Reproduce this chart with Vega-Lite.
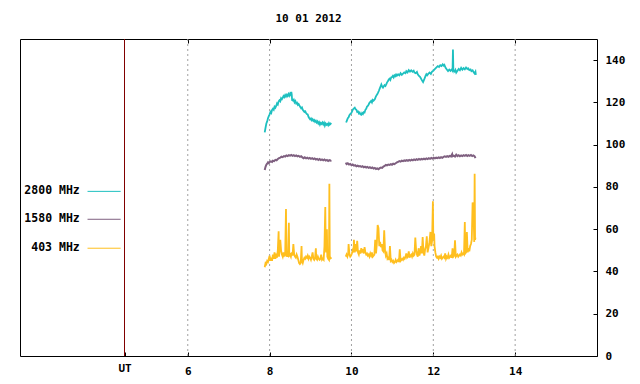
{
"$schema":"https://vega.github.io/schema/vega-lite/v6.json",
"width":577,"height":317,
"autosize":{"type":"none"},
"padding":{"left":20,"top":39,"right":43,"bottom":28},
"background":"white",
"title":{"text":"10 01 2012","font":"DejaVu Sans Mono","fontSize":11,"fontWeight":"bold","color":"black","anchor":"middle","offset":15},
"config":{"view":{"stroke":"black","strokeWidth":1},"font":"DejaVu Sans Mono",
 "axisY":{"orient":"right","values":[0,20,40,60,80,100,120,140],"domain":false,"grid":false,"tickSize":-4,"tickColor":"black","labelFont":"DejaVu Sans Mono","labelFontSize":11,"labelFontWeight":"bold","labelColor":"black","labelPadding":12,"title":null}},
"datasets":{
"grid":[{"t":6},{"t":8},{"t":10},{"t":12},{"t":14}],
"ut":[{"t":4.454}],
"leg":[
{"label":"2800 MHz","tx":3.36,"x1":3.55,"x2":4.36,"y":77.9},
{"label":"1580 MHz","tx":3.36,"x1":3.55,"x2":4.36,"y":64.7},
{"label":"403 MHz","tx":3.36,"x1":3.55,"x2":4.36,"y":51.0}],
"c2800":[
{"g":1,"t":7.88,"v":105.8},{"g":1,"t":7.9,"v":108},{"g":1,"t":7.92,"v":110},{"g":1,"t":7.94,"v":111},{"g":1,"t":7.96,"v":112.5},{"g":1,"t":7.98,"v":113.5},{"g":1,"t":8.0,"v":114.4},{"g":1,"t":8.02,"v":115.5},{"g":1,"t":8.04,"v":115},{"g":1,"t":8.06,"v":116.5},{"g":1,"t":8.08,"v":117},{"g":1,"t":8.1,"v":116.5},{"g":1,"t":8.12,"v":118},{"g":1,"t":8.14,"v":117.5},{"g":1,"t":8.16,"v":118.3},{"g":1,"t":8.18,"v":119.5},{"g":1,"t":8.2,"v":119},{"g":1,"t":8.22,"v":120.5},{"g":1,"t":8.24,"v":121},{"g":1,"t":8.26,"v":120.5},{"g":1,"t":8.28,"v":122},{"g":1,"t":8.3,"v":121.5},{"g":1,"t":8.32,"v":122.2},{"g":1,"t":8.34,"v":123},{"g":1,"t":8.36,"v":122.5},{"g":1,"t":8.38,"v":123.5},{"g":1,"t":8.4,"v":122.8},{"g":1,"t":8.42,"v":123.6},{"g":1,"t":8.44,"v":123},{"g":1,"t":8.46,"v":124},{"g":1,"t":8.48,"v":123.2},{"g":1,"t":8.5,"v":124.2},{"g":1,"t":8.52,"v":123.5},{"g":1,"t":8.53,"v":125},{"g":1,"t":8.54,"v":123.8},{"g":1,"t":8.55,"v":121},{"g":1,"t":8.57,"v":120.8},{"g":1,"t":8.59,"v":121.3},{"g":1,"t":8.61,"v":120},{"g":1,"t":8.63,"v":120.6},{"g":1,"t":8.65,"v":119.5},{"g":1,"t":8.67,"v":119.8},{"g":1,"t":8.69,"v":118.8},{"g":1,"t":8.71,"v":119.2},{"g":1,"t":8.73,"v":118.5},{"g":1,"t":8.75,"v":117.8},{"g":1,"t":8.77,"v":117.2},{"g":1,"t":8.79,"v":117.6},{"g":1,"t":8.81,"v":116.5},{"g":1,"t":8.83,"v":116},{"g":1,"t":8.85,"v":115.5},{"g":1,"t":8.87,"v":115.8},{"g":1,"t":8.89,"v":115},{"g":1,"t":8.91,"v":114.5},{"g":1,"t":8.93,"v":114.3},{"g":1,"t":8.95,"v":113.2},{"g":1,"t":8.97,"v":112.5},{"g":1,"t":8.99,"v":112},{"g":1,"t":9.01,"v":112.4},{"g":1,"t":9.03,"v":111.5},{"g":1,"t":9.05,"v":112},{"g":1,"t":9.07,"v":111.2},{"g":1,"t":9.09,"v":111.6},{"g":1,"t":9.11,"v":110.8},{"g":1,"t":9.13,"v":111.3},{"g":1,"t":9.15,"v":110.5},{"g":1,"t":9.17,"v":111},{"g":1,"t":9.19,"v":110},{"g":1,"t":9.21,"v":110.6},{"g":1,"t":9.23,"v":109.5},{"g":1,"t":9.25,"v":110.3},{"g":1,"t":9.27,"v":109.8},{"g":1,"t":9.29,"v":110.5},{"g":1,"t":9.31,"v":109.6},{"g":1,"t":9.33,"v":110.4},{"g":1,"t":9.35,"v":109},{"g":1,"t":9.37,"v":110},{"g":1,"t":9.39,"v":109.4},{"g":1,"t":9.41,"v":109.8},{"g":1,"t":9.43,"v":109.2},{"g":1,"t":9.45,"v":110.2},{"g":1,"t":9.47,"v":109.5},{"g":1,"t":9.49,"v":110},{"g":1,"t":9.51,"v":109.7},
{"g":2,"t":9.87,"v":110.5},{"g":2,"t":9.89,"v":111.5},{"g":2,"t":9.91,"v":112.5},{"g":2,"t":9.93,"v":113},{"g":2,"t":9.95,"v":114},{"g":2,"t":9.97,"v":114.5},{"g":2,"t":10.0,"v":115.1},{"g":2,"t":10.02,"v":116},{"g":2,"t":10.04,"v":116.8},{"g":2,"t":10.06,"v":117.2},{"g":2,"t":10.08,"v":117.5},{"g":2,"t":10.1,"v":116.8},{"g":2,"t":10.12,"v":116.5},{"g":2,"t":10.14,"v":115.5},{"g":2,"t":10.16,"v":115.7},{"g":2,"t":10.18,"v":114.8},{"g":2,"t":10.2,"v":115.2},{"g":2,"t":10.22,"v":114.3},{"g":2,"t":10.24,"v":114.1},{"g":2,"t":10.26,"v":115},{"g":2,"t":10.28,"v":114.5},{"g":2,"t":10.3,"v":115.4},{"g":2,"t":10.32,"v":115.2},{"g":2,"t":10.34,"v":116.5},{"g":2,"t":10.36,"v":117},{"g":2,"t":10.38,"v":118},{"g":2,"t":10.4,"v":118.3},{"g":2,"t":10.42,"v":119},{"g":2,"t":10.44,"v":119.8},{"g":2,"t":10.46,"v":120.2},{"g":2,"t":10.48,"v":120.7},{"g":2,"t":10.5,"v":120},{"g":2,"t":10.52,"v":121.2},{"g":2,"t":10.54,"v":120.8},{"g":2,"t":10.57,"v":121.5},{"g":2,"t":10.59,"v":122.5},{"g":2,"t":10.61,"v":123.3},{"g":2,"t":10.63,"v":123.8},{"g":2,"t":10.65,"v":124.6},{"g":2,"t":10.67,"v":125.5},{"g":2,"t":10.69,"v":126.5},{"g":2,"t":10.71,"v":127.5},{"g":2,"t":10.73,"v":128.5},{"g":2,"t":10.75,"v":127.5},{"g":2,"t":10.77,"v":127},{"g":2,"t":10.79,"v":127.6},{"g":2,"t":10.81,"v":128.2},{"g":2,"t":10.83,"v":127.8},{"g":2,"t":10.85,"v":128.5},{"g":2,"t":10.87,"v":129.5},{"g":2,"t":10.89,"v":130},{"g":2,"t":10.91,"v":130.8},{"g":2,"t":10.93,"v":131.2},{"g":2,"t":10.95,"v":130.6},{"g":2,"t":10.97,"v":131.8},{"g":2,"t":10.99,"v":132},{"g":2,"t":11.01,"v":132.5},{"g":2,"t":11.03,"v":131.8},{"g":2,"t":11.05,"v":132.8},{"g":2,"t":11.07,"v":132.4},{"g":2,"t":11.09,"v":133.2},{"g":2,"t":11.11,"v":132.6},{"g":2,"t":11.14,"v":133.3},{"g":2,"t":11.17,"v":132.8},{"g":2,"t":11.2,"v":133.8},{"g":2,"t":11.23,"v":133},{"g":2,"t":11.26,"v":133.6},{"g":2,"t":11.29,"v":134.2},{"g":2,"t":11.32,"v":133.8},{"g":2,"t":11.34,"v":134.8},{"g":2,"t":11.37,"v":134.2},{"g":2,"t":11.4,"v":135.3},{"g":2,"t":11.43,"v":134.6},{"g":2,"t":11.46,"v":135.2},{"g":2,"t":11.49,"v":134.5},{"g":2,"t":11.52,"v":135},{"g":2,"t":11.54,"v":134.1},{"g":2,"t":11.57,"v":133.8},{"g":2,"t":11.6,"v":134.4},{"g":2,"t":11.62,"v":133.3},{"g":2,"t":11.65,"v":132.5},{"g":2,"t":11.68,"v":132},{"g":2,"t":11.71,"v":130.9},{"g":2,"t":11.73,"v":130.2},{"g":2,"t":11.75,"v":129.6},{"g":2,"t":11.77,"v":130.5},{"g":2,"t":11.79,"v":131.5},{"g":2,"t":11.81,"v":132.5},{"g":2,"t":11.83,"v":133.3},{"g":2,"t":11.85,"v":132.8},{"g":2,"t":11.88,"v":133.6},{"g":2,"t":11.91,"v":134.1},{"g":2,"t":11.94,"v":133.5},{"g":2,"t":11.97,"v":134.6},{"g":2,"t":12.0,"v":135},{"g":2,"t":12.03,"v":135.6},{"g":2,"t":12.06,"v":136.2},{"g":2,"t":12.09,"v":136.8},{"g":2,"t":12.11,"v":137.2},{"g":2,"t":12.14,"v":136.8},{"g":2,"t":12.17,"v":137.6},{"g":2,"t":12.2,"v":137.2},{"g":2,"t":12.23,"v":138},{"g":2,"t":12.25,"v":137.4},{"g":2,"t":12.27,"v":137.8},{"g":2,"t":12.3,"v":136.4},{"g":2,"t":12.33,"v":135.6},{"g":2,"t":12.36,"v":134.8},{"g":2,"t":12.39,"v":135.5},{"g":2,"t":12.42,"v":134.9},{"g":2,"t":12.45,"v":135.6},{"g":2,"t":12.47,"v":135},{"g":2,"t":12.48,"v":145},{"g":2,"t":12.49,"v":135.2},{"g":2,"t":12.52,"v":134.6},{"g":2,"t":12.54,"v":135.4},{"g":2,"t":12.56,"v":134.1},{"g":2,"t":12.59,"v":135},{"g":2,"t":12.62,"v":135.8},{"g":2,"t":12.65,"v":135.2},{"g":2,"t":12.68,"v":136.4},{"g":2,"t":12.71,"v":135.5},{"g":2,"t":12.74,"v":136.2},{"g":2,"t":12.77,"v":135.6},{"g":2,"t":12.8,"v":136.5},{"g":2,"t":12.83,"v":135.8},{"g":2,"t":12.85,"v":136.1},{"g":2,"t":12.88,"v":135.3},{"g":2,"t":12.91,"v":135.6},{"g":2,"t":12.93,"v":134.8},{"g":2,"t":12.96,"v":135.2},{"g":2,"t":12.99,"v":134.2},{"g":2,"t":13.01,"v":133.7},{"g":2,"t":13.03,"v":134.5},{"g":2,"t":13.04,"v":133}],
"c1580":[
{"g":1,"t":7.88,"v":88},{"g":1,"t":7.9,"v":89.5},{"g":1,"t":7.92,"v":90.5},{"g":1,"t":7.94,"v":91},{"g":1,"t":7.96,"v":91.6},{"g":1,"t":7.98,"v":91.2},{"g":1,"t":8.0,"v":91.8},{"g":1,"t":8.03,"v":92.1},{"g":1,"t":8.06,"v":91.8},{"g":1,"t":8.08,"v":92.4},{"g":1,"t":8.11,"v":92.2},{"g":1,"t":8.14,"v":92.8},{"g":1,"t":8.17,"v":92.6},{"g":1,"t":8.2,"v":93.2},{"g":1,"t":8.23,"v":93.6},{"g":1,"t":8.26,"v":93.9},{"g":1,"t":8.29,"v":94.3},{"g":1,"t":8.32,"v":94.1},{"g":1,"t":8.35,"v":94.6},{"g":1,"t":8.38,"v":94.4},{"g":1,"t":8.41,"v":94.9},{"g":1,"t":8.44,"v":94.6},{"g":1,"t":8.47,"v":95},{"g":1,"t":8.5,"v":94.8},{"g":1,"t":8.53,"v":95.1},{"g":1,"t":8.56,"v":94.7},{"g":1,"t":8.59,"v":95},{"g":1,"t":8.62,"v":94.6},{"g":1,"t":8.65,"v":94.9},{"g":1,"t":8.68,"v":94.5},{"g":1,"t":8.71,"v":94.7},{"g":1,"t":8.74,"v":94.2},{"g":1,"t":8.77,"v":94.5},{"g":1,"t":8.8,"v":94},{"g":1,"t":8.83,"v":93.6},{"g":1,"t":8.86,"v":94},{"g":1,"t":8.89,"v":93.5},{"g":1,"t":8.92,"v":93.8},{"g":1,"t":8.95,"v":93.4},{"g":1,"t":8.98,"v":93.7},{"g":1,"t":9.01,"v":93.3},{"g":1,"t":9.04,"v":93.6},{"g":1,"t":9.07,"v":93.2},{"g":1,"t":9.1,"v":93.5},{"g":1,"t":9.13,"v":93},{"g":1,"t":9.16,"v":93.3},{"g":1,"t":9.19,"v":92.8},{"g":1,"t":9.22,"v":93.2},{"g":1,"t":9.25,"v":92.7},{"g":1,"t":9.28,"v":93},{"g":1,"t":9.31,"v":92.6},{"g":1,"t":9.34,"v":93},{"g":1,"t":9.37,"v":92.5},{"g":1,"t":9.4,"v":92.8},{"g":1,"t":9.43,"v":92.3},{"g":1,"t":9.46,"v":92.7},{"g":1,"t":9.49,"v":92.4},{"g":1,"t":9.51,"v":92.6},
{"g":2,"t":9.86,"v":91.5},{"g":2,"t":9.88,"v":90.8},{"g":2,"t":9.91,"v":91.2},{"g":2,"t":9.94,"v":90.6},{"g":2,"t":9.97,"v":90.9},{"g":2,"t":10.0,"v":90.3},{"g":2,"t":10.03,"v":90.6},{"g":2,"t":10.06,"v":90.1},{"g":2,"t":10.09,"v":90.3},{"g":2,"t":10.12,"v":89.8},{"g":2,"t":10.15,"v":90.1},{"g":2,"t":10.18,"v":89.7},{"g":2,"t":10.21,"v":89.9},{"g":2,"t":10.24,"v":89.5},{"g":2,"t":10.27,"v":89.8},{"g":2,"t":10.3,"v":89.3},{"g":2,"t":10.33,"v":89.6},{"g":2,"t":10.36,"v":89.2},{"g":2,"t":10.39,"v":89.5},{"g":2,"t":10.42,"v":89},{"g":2,"t":10.45,"v":89.3},{"g":2,"t":10.48,"v":88.9},{"g":2,"t":10.51,"v":89.2},{"g":2,"t":10.54,"v":88.7},{"g":2,"t":10.57,"v":89},{"g":2,"t":10.6,"v":88.5},{"g":2,"t":10.63,"v":88.8},{"g":2,"t":10.66,"v":88.4},{"g":2,"t":10.69,"v":88.9},{"g":2,"t":10.72,"v":89.2},{"g":2,"t":10.75,"v":89},{"g":2,"t":10.78,"v":89.6},{"g":2,"t":10.81,"v":89.9},{"g":2,"t":10.84,"v":90.4},{"g":2,"t":10.87,"v":90.2},{"g":2,"t":10.9,"v":90.6},{"g":2,"t":10.93,"v":90.4},{"g":2,"t":10.96,"v":90.8},{"g":2,"t":10.99,"v":90.5},{"g":2,"t":11.02,"v":91},{"g":2,"t":11.05,"v":90.8},{"g":2,"t":11.08,"v":91.2},{"g":2,"t":11.11,"v":91.6},{"g":2,"t":11.14,"v":91.9},{"g":2,"t":11.17,"v":92.2},{"g":2,"t":11.2,"v":92},{"g":2,"t":11.23,"v":92.4},{"g":2,"t":11.26,"v":92.2},{"g":2,"t":11.29,"v":92.6},{"g":2,"t":11.32,"v":92.3},{"g":2,"t":11.35,"v":92.7},{"g":2,"t":11.38,"v":92.4},{"g":2,"t":11.41,"v":92.8},{"g":2,"t":11.44,"v":92.5},{"g":2,"t":11.47,"v":92.9},{"g":2,"t":11.5,"v":92.6},{"g":2,"t":11.53,"v":93},{"g":2,"t":11.56,"v":92.7},{"g":2,"t":11.59,"v":93.1},{"g":2,"t":11.62,"v":92.8},{"g":2,"t":11.65,"v":93.2},{"g":2,"t":11.68,"v":92.9},{"g":2,"t":11.71,"v":93.3},{"g":2,"t":11.74,"v":93},{"g":2,"t":11.77,"v":93.4},{"g":2,"t":11.8,"v":93.1},{"g":2,"t":11.83,"v":93.5},{"g":2,"t":11.86,"v":93.2},{"g":2,"t":11.89,"v":93.6},{"g":2,"t":11.92,"v":93.3},{"g":2,"t":11.95,"v":93.7},{"g":2,"t":11.98,"v":93.4},{"g":2,"t":12.01,"v":93.8},{"g":2,"t":12.04,"v":93.5},{"g":2,"t":12.07,"v":93.9},{"g":2,"t":12.1,"v":93.6},{"g":2,"t":12.13,"v":94},{"g":2,"t":12.16,"v":93.7},{"g":2,"t":12.19,"v":94.1},{"g":2,"t":12.22,"v":93.8},{"g":2,"t":12.25,"v":94.2},{"g":2,"t":12.28,"v":94.5},{"g":2,"t":12.31,"v":94.2},{"g":2,"t":12.34,"v":94.6},{"g":2,"t":12.37,"v":94.3},{"g":2,"t":12.4,"v":94.7},{"g":2,"t":12.43,"v":94.4},{"g":2,"t":12.46,"v":95.5},{"g":2,"t":12.47,"v":94.5},{"g":2,"t":12.5,"v":94.8},{"g":2,"t":12.53,"v":94.4},{"g":2,"t":12.56,"v":95.3},{"g":2,"t":12.59,"v":94.6},{"g":2,"t":12.62,"v":95},{"g":2,"t":12.65,"v":94.5},{"g":2,"t":12.68,"v":94.9},{"g":2,"t":12.71,"v":94.6},{"g":2,"t":12.74,"v":95},{"g":2,"t":12.77,"v":94.7},{"g":2,"t":12.8,"v":95.1},{"g":2,"t":12.83,"v":94.6},{"g":2,"t":12.86,"v":95},{"g":2,"t":12.89,"v":94.7},{"g":2,"t":12.92,"v":95.1},{"g":2,"t":12.95,"v":94.6},{"g":2,"t":12.98,"v":94.9},{"g":2,"t":13.01,"v":94.5},{"g":2,"t":13.03,"v":93.6}],
"c403":[
{"g":1,"t":7.88,"v":42},{"g":1,"t":7.9,"v":44},{"g":1,"t":7.92,"v":43.5},{"g":1,"t":7.94,"v":45},{"g":1,"t":7.96,"v":44.5},{"g":1,"t":7.98,"v":46},{"g":1,"t":8.0,"v":47.5},{"g":1,"t":8.02,"v":45},{"g":1,"t":8.04,"v":46.5},{"g":1,"t":8.06,"v":45},{"g":1,"t":8.08,"v":48},{"g":1,"t":8.1,"v":46},{"g":1,"t":8.12,"v":49},{"g":1,"t":8.14,"v":46},{"g":1,"t":8.16,"v":47.5},{"g":1,"t":8.18,"v":46.5},{"g":1,"t":8.2,"v":50},{"g":1,"t":8.22,"v":59},{"g":1,"t":8.23,"v":47},{"g":1,"t":8.25,"v":52},{"g":1,"t":8.26,"v":55},{"g":1,"t":8.28,"v":50},{"g":1,"t":8.3,"v":48},{"g":1,"t":8.32,"v":47},{"g":1,"t":8.34,"v":49},{"g":1,"t":8.36,"v":47.5},{"g":1,"t":8.38,"v":48},{"g":1,"t":8.4,"v":69.5},{"g":1,"t":8.41,"v":47},{"g":1,"t":8.43,"v":48},{"g":1,"t":8.45,"v":47},{"g":1,"t":8.47,"v":63},{"g":1,"t":8.48,"v":47.5},{"g":1,"t":8.5,"v":48},{"g":1,"t":8.52,"v":47},{"g":1,"t":8.54,"v":49},{"g":1,"t":8.56,"v":47.5},{"g":1,"t":8.58,"v":53},{"g":1,"t":8.6,"v":48},{"g":1,"t":8.62,"v":47},{"g":1,"t":8.64,"v":46.5},{"g":1,"t":8.66,"v":48},{"g":1,"t":8.68,"v":47},{"g":1,"t":8.7,"v":45.5},{"g":1,"t":8.72,"v":44},{"g":1,"t":8.74,"v":43.5},{"g":1,"t":8.76,"v":44},{"g":1,"t":8.78,"v":52},{"g":1,"t":8.79,"v":45},{"g":1,"t":8.81,"v":44},{"g":1,"t":8.83,"v":45.5},{"g":1,"t":8.85,"v":46.5},{"g":1,"t":8.87,"v":46},{"g":1,"t":8.89,"v":47},{"g":1,"t":8.91,"v":46.5},{"g":1,"t":8.93,"v":47.5},{"g":1,"t":8.95,"v":46},{"g":1,"t":8.97,"v":47},{"g":1,"t":8.99,"v":46.5},{"g":1,"t":9.01,"v":45.5},{"g":1,"t":9.03,"v":47},{"g":1,"t":9.05,"v":49},{"g":1,"t":9.07,"v":46},{"g":1,"t":9.09,"v":45.5},{"g":1,"t":9.11,"v":46.5},{"g":1,"t":9.13,"v":51},{"g":1,"t":9.14,"v":46},{"g":1,"t":9.16,"v":45.5},{"g":1,"t":9.18,"v":47},{"g":1,"t":9.2,"v":46},{"g":1,"t":9.22,"v":45.5},{"g":1,"t":9.24,"v":46},{"g":1,"t":9.26,"v":48},{"g":1,"t":9.28,"v":45.5},{"g":1,"t":9.3,"v":46},{"g":1,"t":9.32,"v":45.5},{"g":1,"t":9.34,"v":52},{"g":1,"t":9.36,"v":70.5},{"g":1,"t":9.37,"v":53},{"g":1,"t":9.38,"v":49},{"g":1,"t":9.4,"v":60},{"g":1,"t":9.41,"v":47},{"g":1,"t":9.43,"v":46},{"g":1,"t":9.45,"v":45.5},{"g":1,"t":9.46,"v":81.5},{"g":1,"t":9.47,"v":46},{"g":1,"t":9.49,"v":46.5},{"g":1,"t":9.51,"v":46},
{"g":2,"t":9.86,"v":47},{"g":2,"t":9.88,"v":48},{"g":2,"t":9.9,"v":47},{"g":2,"t":9.92,"v":48.5},{"g":2,"t":9.93,"v":53},{"g":2,"t":9.95,"v":48},{"g":2,"t":9.97,"v":47},{"g":2,"t":9.99,"v":47.5},{"g":2,"t":10.01,"v":48.5},{"g":2,"t":10.03,"v":50},{"g":2,"t":10.05,"v":49},{"g":2,"t":10.06,"v":55},{"g":2,"t":10.08,"v":49},{"g":2,"t":10.1,"v":53},{"g":2,"t":10.12,"v":49.5},{"g":2,"t":10.14,"v":54.5},{"g":2,"t":10.16,"v":49},{"g":2,"t":10.18,"v":48},{"g":2,"t":10.2,"v":50},{"g":2,"t":10.22,"v":48.5},{"g":2,"t":10.24,"v":51},{"g":2,"t":10.26,"v":49},{"g":2,"t":10.28,"v":50.5},{"g":2,"t":10.3,"v":48.5},{"g":2,"t":10.32,"v":51.5},{"g":2,"t":10.34,"v":49},{"g":2,"t":10.36,"v":48},{"g":2,"t":10.38,"v":48.5},{"g":2,"t":10.4,"v":47.5},{"g":2,"t":10.42,"v":48},{"g":2,"t":10.44,"v":47},{"g":2,"t":10.46,"v":48.5},{"g":2,"t":10.48,"v":47.5},{"g":2,"t":10.5,"v":49},{"g":2,"t":10.52,"v":47},{"g":2,"t":10.54,"v":47.5},{"g":2,"t":10.56,"v":48},{"g":2,"t":10.58,"v":55},{"g":2,"t":10.6,"v":48.5},{"g":2,"t":10.62,"v":53},{"g":2,"t":10.64,"v":62},{"g":2,"t":10.66,"v":60.5},{"g":2,"t":10.68,"v":52},{"g":2,"t":10.7,"v":54},{"g":2,"t":10.72,"v":51.5},{"g":2,"t":10.74,"v":53},{"g":2,"t":10.76,"v":50},{"g":2,"t":10.78,"v":49.5},{"g":2,"t":10.8,"v":59.5},{"g":2,"t":10.82,"v":50},{"g":2,"t":10.84,"v":47.5},{"g":2,"t":10.86,"v":48.5},{"g":2,"t":10.88,"v":46},{"g":2,"t":10.9,"v":46.5},{"g":2,"t":10.92,"v":45.5},{"g":2,"t":10.94,"v":52},{"g":2,"t":10.96,"v":45},{"g":2,"t":10.98,"v":45.5},{"g":2,"t":11.0,"v":44.5},{"g":2,"t":11.02,"v":45},{"g":2,"t":11.04,"v":44},{"g":2,"t":11.06,"v":44.5},{"g":2,"t":11.08,"v":45.5},{"g":2,"t":11.1,"v":44.5},{"g":2,"t":11.12,"v":45},{"g":2,"t":11.14,"v":45.5},{"g":2,"t":11.16,"v":44.5},{"g":2,"t":11.18,"v":50.5},{"g":2,"t":11.2,"v":45},{"g":2,"t":11.22,"v":45.5},{"g":2,"t":11.24,"v":46},{"g":2,"t":11.26,"v":45.5},{"g":2,"t":11.28,"v":46.5},{"g":2,"t":11.3,"v":46},{"g":2,"t":11.32,"v":47},{"g":2,"t":11.34,"v":48.5},{"g":2,"t":11.36,"v":46.5},{"g":2,"t":11.38,"v":47},{"g":2,"t":11.4,"v":49.5},{"g":2,"t":11.42,"v":46.5},{"g":2,"t":11.44,"v":47.5},{"g":2,"t":11.46,"v":48},{"g":2,"t":11.48,"v":47},{"g":2,"t":11.5,"v":48.5},{"g":2,"t":11.52,"v":47.5},{"g":2,"t":11.54,"v":48},{"g":2,"t":11.56,"v":56},{"g":2,"t":11.58,"v":50},{"g":2,"t":11.6,"v":48},{"g":2,"t":11.62,"v":47},{"g":2,"t":11.64,"v":51},{"g":2,"t":11.66,"v":47.5},{"g":2,"t":11.68,"v":49},{"g":2,"t":11.7,"v":52},{"g":2,"t":11.72,"v":48.5},{"g":2,"t":11.74,"v":56.3},{"g":2,"t":11.76,"v":49},{"g":2,"t":11.78,"v":47.5},{"g":2,"t":11.8,"v":50.5},{"g":2,"t":11.82,"v":52},{"g":2,"t":11.84,"v":56.6},{"g":2,"t":11.86,"v":49},{"g":2,"t":11.88,"v":51},{"g":2,"t":11.9,"v":53},{"g":2,"t":11.93,"v":58.7},{"g":2,"t":11.95,"v":52},{"g":2,"t":11.97,"v":54.5},{"g":2,"t":11.99,"v":73.2},{"g":2,"t":12.0,"v":55},{"g":2,"t":12.02,"v":58},{"g":2,"t":12.03,"v":52},{"g":2,"t":12.05,"v":49},{"g":2,"t":12.07,"v":47},{"g":2,"t":12.09,"v":46.5},{"g":2,"t":12.11,"v":47},{"g":2,"t":12.13,"v":46},{"g":2,"t":12.15,"v":47},{"g":2,"t":12.17,"v":46.5},{"g":2,"t":12.19,"v":47.5},{"g":2,"t":12.21,"v":46},{"g":2,"t":12.23,"v":46.5},{"g":2,"t":12.25,"v":47},{"g":2,"t":12.27,"v":46.5},{"g":2,"t":12.29,"v":48.5},{"g":2,"t":12.31,"v":46},{"g":2,"t":12.33,"v":47},{"g":2,"t":12.35,"v":46.5},{"g":2,"t":12.37,"v":48},{"g":2,"t":12.39,"v":46.5},{"g":2,"t":12.41,"v":47},{"g":2,"t":12.43,"v":47.5},{"g":2,"t":12.45,"v":46.5},{"g":2,"t":12.47,"v":51},{"g":2,"t":12.49,"v":47},{"g":2,"t":12.51,"v":47.5},{"g":2,"t":12.53,"v":54.7},{"g":2,"t":12.55,"v":47},{"g":2,"t":12.57,"v":47.5},{"g":2,"t":12.59,"v":48},{"g":2,"t":12.61,"v":47},{"g":2,"t":12.63,"v":47.5},{"g":2,"t":12.65,"v":48},{"g":2,"t":12.67,"v":47.5},{"g":2,"t":12.69,"v":49},{"g":2,"t":12.71,"v":48},{"g":2,"t":12.73,"v":48.5},{"g":2,"t":12.75,"v":48},{"g":2,"t":12.77,"v":63.4},{"g":2,"t":12.78,"v":48.5},{"g":2,"t":12.8,"v":49},{"g":2,"t":12.82,"v":58.7},{"g":2,"t":12.84,"v":49},{"g":2,"t":12.86,"v":51},{"g":2,"t":12.88,"v":49.5},{"g":2,"t":12.9,"v":52},{"g":2,"t":12.92,"v":53},{"g":2,"t":12.94,"v":55},{"g":2,"t":12.96,"v":72.6},{"g":2,"t":12.98,"v":71},{"g":2,"t":13.0,"v":54},{"g":2,"t":13.01,"v":86.2},{"g":2,"t":13.02,"v":55},{"g":2,"t":13.03,"v":56}]
},
"layer":[
{"data":{"name":"grid"},"mark":{"type":"rule","color":"#a0a0a0","strokeDash":[2,3],"strokeWidth":1},
 "encoding":{"x":{"field":"t","type":"quantitative","scale":{"domain":[1.9,16],"nice":false,"zero":false},
  "axis":{"orient":"bottom","values":[4.454,6,8,10,12,14],"labelExpr":"datum.value < 5 ? 'UT' : datum.label","domain":false,"grid":false,"tickSize":-4,"tickColor":"black","labelFont":"DejaVu Sans Mono","labelFontSize":11,"labelFontWeight":"bold","labelColor":"black","labelPadding":{"condition":{"test":"datum.value < 5","value":10},"value":13},"title":null}}}},
{"data":{"name":"ut"},"mark":{"type":"rule","color":"#800000","strokeWidth":1},
 "encoding":{"x":{"field":"t","type":"quantitative","scale":{"domain":[1.9,16],"nice":false,"zero":false},
  "axis":{"orient":"top","values":[6,8,10,12,14],"labels":false,"domain":false,"grid":false,"tickSize":-4,"tickColor":"black","title":null}}}},
{"data":{"name":"c2800"},"mark":{"type":"line","color":"#1ec0c0","strokeWidth":1.8},
 "encoding":{"x":{"field":"t","type":"quantitative","scale":{"domain":[1.9,16],"nice":false,"zero":false},"axis":null},
  "y":{"field":"v","type":"quantitative","scale":{"domain":[0,150],"nice":false,"zero":false}},
  "detail":{"field":"g","type":"nominal"}}},
{"data":{"name":"c1580"},"mark":{"type":"line","color":"#7f6080","strokeWidth":2},
 "encoding":{"x":{"field":"t","type":"quantitative","scale":{"domain":[1.9,16],"nice":false,"zero":false},"axis":null},
  "y":{"field":"v","type":"quantitative","scale":{"domain":[0,150],"nice":false,"zero":false}},
  "detail":{"field":"g","type":"nominal"}}},
{"data":{"name":"c403"},"mark":{"type":"line","color":"#ffbf1f","strokeWidth":1.8},
 "encoding":{"x":{"field":"t","type":"quantitative","scale":{"domain":[1.9,16],"nice":false,"zero":false},"axis":null},
  "y":{"field":"v","type":"quantitative","scale":{"domain":[0,150],"nice":false,"zero":false}},
  "detail":{"field":"g","type":"nominal"}}},
{"data":{"name":"leg"},"mark":{"type":"text","align":"right","baseline":"middle","font":"DejaVu Sans Mono","fontSize":11.5,"fontWeight":"bold","color":"black"},
 "encoding":{"x":{"field":"tx","type":"quantitative","scale":{"domain":[1.9,16],"nice":false,"zero":false},"axis":null},
  "y":{"field":"y","type":"quantitative","scale":{"domain":[0,150],"nice":false,"zero":false}},
  "text":{"field":"label","type":"nominal"}}},
{"data":{"name":"leg"},"mark":{"type":"rule","strokeWidth":1},
 "encoding":{"x":{"field":"x1","type":"quantitative","scale":{"domain":[1.9,16],"nice":false,"zero":false},"axis":null},
  "x2":{"field":"x2"},
  "y":{"field":"y","type":"quantitative","scale":{"domain":[0,150],"nice":false,"zero":false}},
  "color":{"field":"label","type":"nominal","scale":{"domain":["2800 MHz","1580 MHz","403 MHz"],"range":["#1ec0c0","#7f6080","#ffbf1f"]},"legend":null}}}
]
}
